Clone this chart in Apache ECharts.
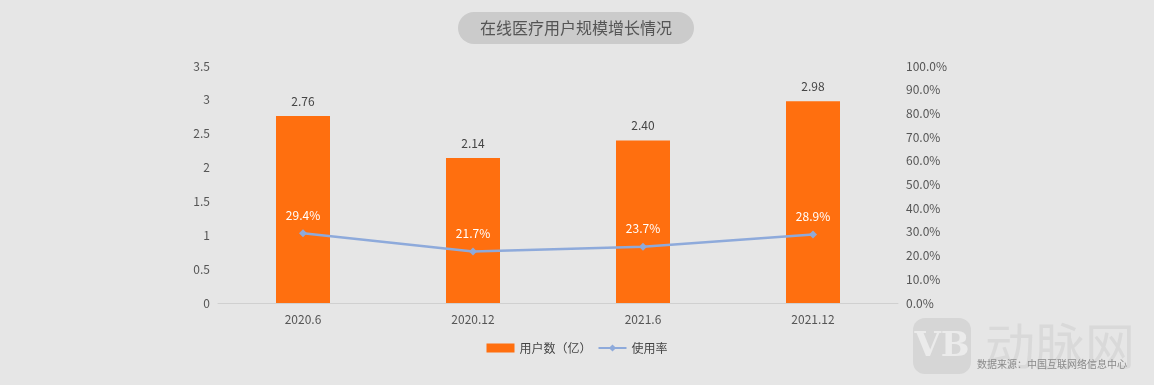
<!DOCTYPE html>
<html><head><meta charset="utf-8">
<script src="https://cdn.jsdelivr.net/npm/echarts@6/dist/echarts.min.js"></script>
<style>html,body{margin:0;padding:0;background:#e6e6e6}#c{width:1154px;height:385px}</style>
</head><body><div id="c"></div>
<script>
const categories = ['2020.6', '2020.12', '2021.6', '2021.12'];
const users = [2.76, 2.14, 2.40, 2.98];
const rate = [29.4, 21.7, 23.7, 28.9];

const font = '"Noto Sans CJK SC", "Noto Sans", sans-serif';
const chart = echarts.init(document.getElementById('c'));
chart.setOption({
  backgroundColor: '#e6e6e6',
  textStyle: { fontFamily: font },
  grid: { left: 218, right: 256, top: 66, bottom: 82 },
  graphic: [
    { type: 'rect', shape: { x: 458, y: 12, width: 236, height: 32, r: 16 }, style: { fill: '#cbcbcb' }, z: 1 },
    { type: 'text', style: { x: 576, y: 28, text: '在线医疗用户规模增长情况', fill: '#555555', font: '16px ' + font, textAlign: 'center', textVerticalAlign: 'middle' }, z: 2 },
    { type: 'rect', shape: { x: 913, y: 318, width: 58, height: 56, r: 12 }, style: { fill: '#d6d6d6' }, z: 0 },
    { type: 'text', style: { x: 942, y: 347, text: 'VB', fill: '#ebebeb', font: 'bold 34px "DejaVu Serif", serif', textAlign: 'center', textVerticalAlign: 'middle' }, z: 1 },
    { type: 'text', style: { x: 985, y: 346, text: '动脉网', fill: '#d9d9d9', font: '50px ' + font, textAlign: 'left', textVerticalAlign: 'middle' }, z: 0 },
    { type: 'text', style: { x: 1127, y: 364, text: '数据来源：中国互联网络信息中心', fill: '#8a8a8a', font: '10px ' + font, textAlign: 'right', textVerticalAlign: 'middle' }, z: 3 }
  ],
  legend: {
    data: [{ name: '用户数（亿）', icon: 'rect' }, { name: '使用率' }], bottom: 26, left: 'center', itemGap: 6,
    itemWidth: 28, itemHeight: 9,
    textStyle: { color: '#444', fontSize: 12, fontFamily: font }
  },
  xAxis: {
    type: 'category', data: categories,
    axisLine: { lineStyle: { color: '#d0d0d0' } },
    axisTick: { show: false },
    axisLabel: { color: '#555', fontSize: 12, margin: 10 }
  },
  yAxis: [
    { type: 'value', min: 0, max: 3.5, interval: 0.5,
      axisLine: { show: false }, axisTick: { show: false }, splitLine: { show: false },
      axisLabel: { color: '#555', fontSize: 12, margin: 8, formatter: v => String(v) } },
    { type: 'value', min: 0, max: 100, interval: 10,
      axisLine: { show: false }, axisTick: { show: false }, splitLine: { show: false },
      axisLabel: { color: '#555', fontSize: 12, margin: 8, formatter: v => v.toFixed(1) + '%' } }
  ],
  series: [
    { name: '用户数（亿）', type: 'bar', data: users, barWidth: 54,
      itemStyle: { color: '#ff6f0f' },
      label: { show: true, position: 'top', distance: 9, color: '#444', fontSize: 12, formatter: p => p.value.toFixed(2) } },
    { name: '使用率', type: 'line', yAxisIndex: 1, data: rate,
      symbol: 'diamond', symbolSize: 8,
      lineStyle: { color: '#8eaadb', width: 2.5 },
      itemStyle: { color: '#8eaadb' },
      label: { show: true, position: 'top', distance: 8, color: '#ffffff', fontSize: 12, formatter: p => p.value.toFixed(1) + '%' } }
  ]
});
</script></body></html>
